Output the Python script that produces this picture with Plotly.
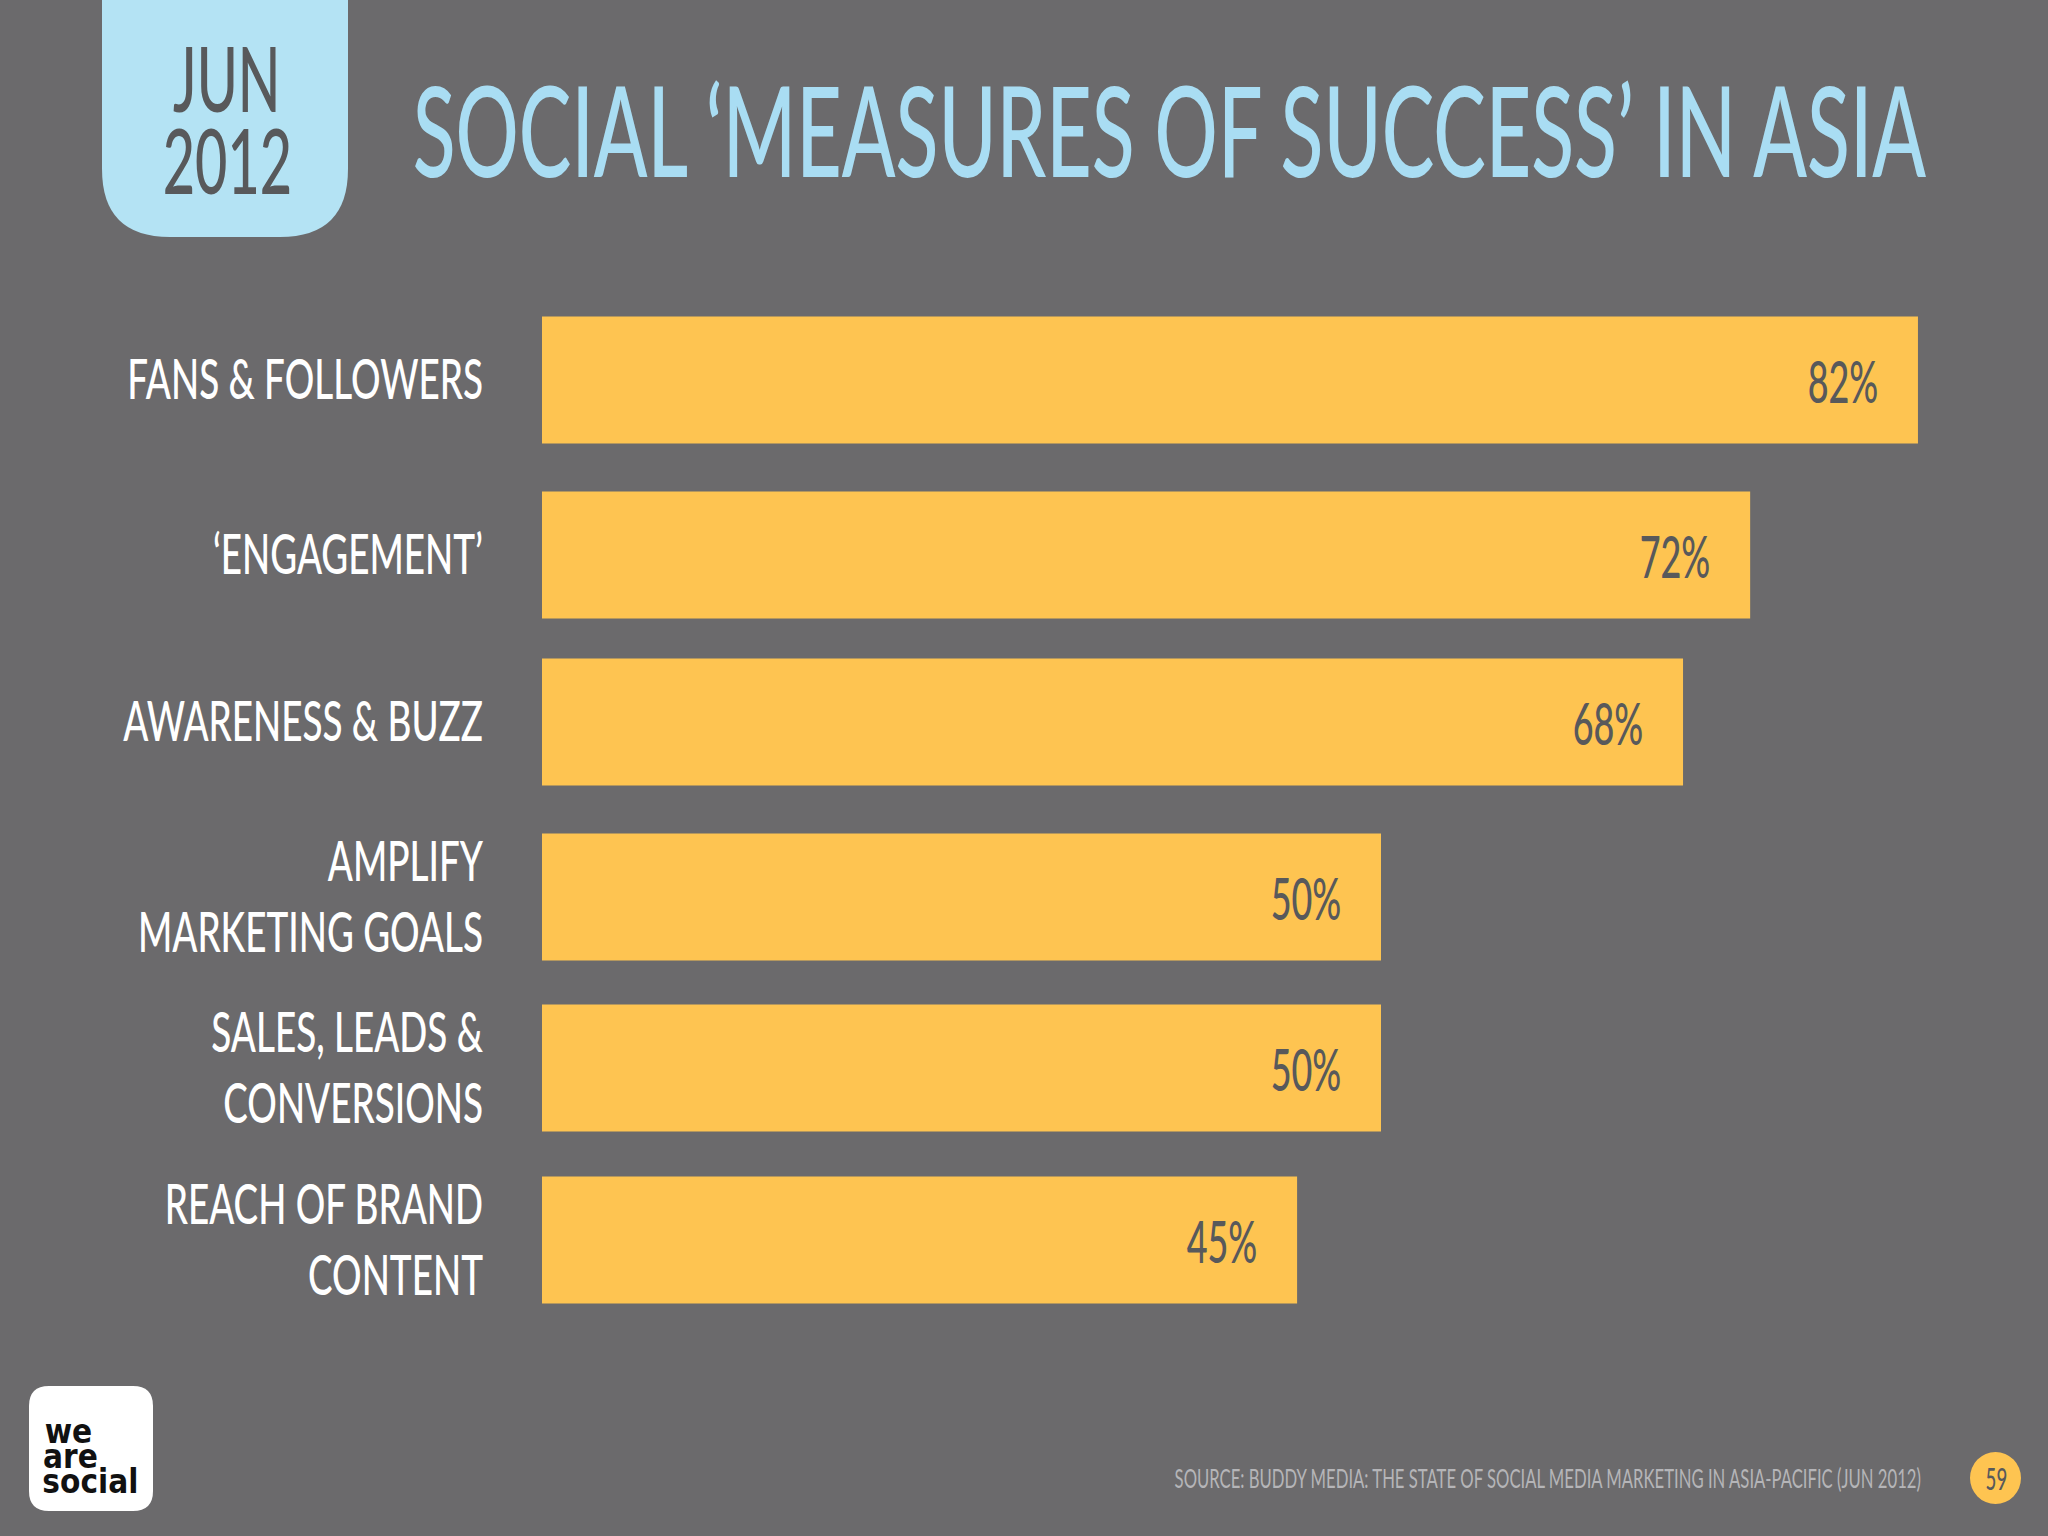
import plotly.graph_objects as go

categories = [
    "FANS & FOLLOWERS",
    "‘ENGAGEMENT’",
    "AWARENESS & BUZZ",
    "AMPLIFY<br>MARKETING GOALS",
    "SALES, LEADS &<br>CONVERSIONS",
    "REACH OF BRAND<br>CONTENT",
]
values = [82, 72, 68, 50, 50, 45]
value_labels = ["82%", "72%", "68%", "50%", "50%", "45%"]

# the rows on the slide are not evenly spaced
row_centers = [380, 555, 722, 897, 1068, 1240]

W, H = 2048, 1536
BG = "#6b6a6c"
YELLOW = "#fec451"
BLUE = "#b4e3f4"
TITLE_BLUE = "#a9ddf3"
DARK = "#58595b"
FONT = "Lato"
LOGO_FONT = "DejaVu Sans"

# no condensed face is installed, so squeeze the text sideways once it is drawn
SQUEEZE_JS = """
document.body.style.margin = '0';
document.body.style.overflow = 'hidden';
var squeeze = {'55px': 0.67, '125px': 0.631, '26px': 0.642};
document.querySelectorAll('.main-svg text').forEach(function (t) {
    var k = squeeze[t.style.fontSize] || 0.62;
    if (t.style.fontFamily.includes('DejaVu')) k = 0.9;
    var x = parseFloat(t.getAttribute('x')) || 0;
    var old = t.getAttribute('transform') || '';
    t.setAttribute('transform', old + ' translate(' + x + ',0) scale(' + k + ',1) translate(' + (-x) + ',0)');
});
"""


def px(x):
    return x / W


def py(y):
    return 1 - y / H


def add_text(fig, x, y, text, size, color, family=FONT, weight="normal"):
    fig.add_annotation(
        x=px(x),
        y=py(y),
        xref="paper",
        yref="paper",
        text=text,
        showarrow=False,
        xanchor="center",
        yanchor="middle",
        font=dict(family=family, size=size, color=color, weight=weight),
    )


def rounded_rect(x0, y0, x1, y1, r, top=True):
    # path in paper coords, top corners stay square for the date tab
    path = f"M {px(x0)} {py(y0)} L {px(x1)} {py(y0)} "
    if not top:
        path = f"M {px(x0 + r)} {py(y0)} L {px(x1 - r)} {py(y0)} "
        path += f"Q {px(x1)} {py(y0)} {px(x1)} {py(y0 + r)} "
    path += f"L {px(x1)} {py(y1 - r)} Q {px(x1)} {py(y1)} {px(x1 - r)} {py(y1)} "
    path += f"L {px(x0 + r)} {py(y1)} Q {px(x0)} {py(y1)} {px(x0)} {py(y1 - r)} "
    if not top:
        path += f"L {px(x0)} {py(y0 + r)} Q {px(x0)} {py(y0)} {px(x0 + r)} {py(y0)} "
    return path + "Z"


fig = go.Figure()

fig.add_trace(
    go.Bar(
        x=values,
        y=row_centers,
        orientation="h",
        width=127,
        marker=dict(color=YELLOW, line=dict(width=0)),
        hoverinfo="skip",
    )
)

for value, label, row in zip(values, value_labels, row_centers):
    fig.add_annotation(
        x=value,
        y=row,
        text=label,
        showarrow=False,
        xanchor="center",
        yanchor="middle",
        xshift=-75,
        font=dict(family=FONT, size=58, color=DARK, weight=500),
    )

# date tab
fig.add_shape(type="path", xref="paper", yref="paper", path=rounded_rect(102, -5, 348, 237, 68), fillcolor=BLUE, line_width=0)
# logo tile
fig.add_shape(type="path", xref="paper", yref="paper", path=rounded_rect(29, 1386, 153, 1511, 20, top=False), fillcolor="white", line_width=0)
# page number dot
fig.add_shape(type="circle", xref="paper", yref="paper", x0=px(1970), x1=px(2021), y0=py(1504), y1=py(1452), fillcolor=YELLOW, line_width=0)

add_text(fig, 226, 77, "JUN", 90, DARK, weight=500)
add_text(fig, 227, 159, "2012", 90, DARK, weight=500)
add_text(fig, 1170, 129, "SOCIAL ‘MEASURES OF SUCCESS’ IN ASIA", 125, TITLE_BLUE, weight=500)
add_text(fig, 1548, 1478, "SOURCE: BUDDY MEDIA: THE STATE OF SOCIAL MEDIA MARKETING IN ASIA-PACIFIC (JUN 2012)", 26, "#b5b5b8")
add_text(fig, 1996, 1478, "59", 30, DARK, weight=500)
add_text(fig, 68, 1431, "we", 33, "#111111", family=LOGO_FONT, weight="bold")
add_text(fig, 70, 1456, "are", 33, "#111111", family=LOGO_FONT, weight="bold")
add_text(fig, 90, 1481, "social", 33, "#111111", family=LOGO_FONT, weight="bold")

fig.update_layout(
    width=W,
    height=H,
    margin=dict(l=0, r=0, t=0, b=0),
    paper_bgcolor=BG,
    plot_bgcolor=BG,
    showlegend=False,
    xaxis=dict(
        domain=[px(542), 1],
        range=[0, (W - 542) / 16.78],
        visible=False,
    ),
    yaxis=dict(
        domain=[0, 1],
        range=[H, 0],
        anchor="x",
        automargin=False,
        tickmode="array",
        tickvals=row_centers,
        ticktext=categories,
        tickfont=dict(family=FONT, size=55, color="white", weight=500),
        ticks="outside",
        ticklen=47,
        tickcolor="rgba(0,0,0,0)",
        showgrid=False,
        zeroline=False,
        showline=False,
    ),
)

fig.write_html(
    "out.html",
    config={"displayModeBar": False},
    post_script=SQUEEZE_JS,
)
